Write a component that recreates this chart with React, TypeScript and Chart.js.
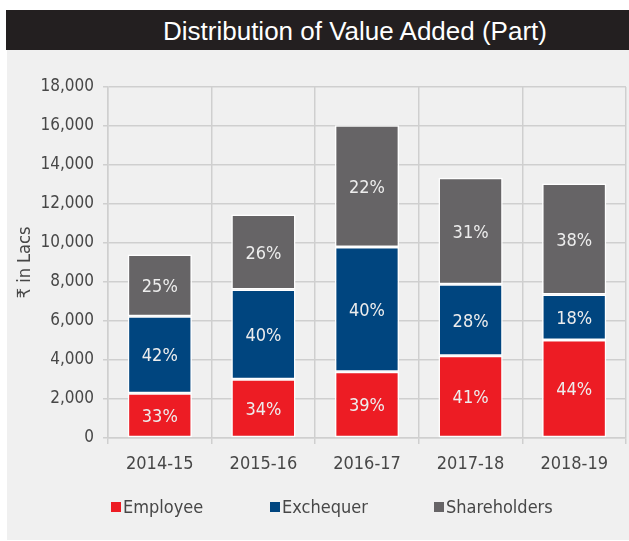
import React, { useEffect, useRef } from "react";
import { Chart, registerables } from "chart.js";

Chart.register(...registerables);

const categories = ["2014-15", "2015-16", "2016-17", "2017-18", "2018-19"];
const employee = [2290, 3010, 3400, 4220, 5020];
const exchequer = [3960, 4610, 6400, 3670, 2340];
const shareholders = [3160, 3840, 6240, 5450, 5690];
const employeePct = ["33%", "34%", "39%", "41%", "44%"];
const exchequerPct = ["42%", "40%", "40%", "28%", "18%"];
const shareholdersPct = ["25%", "26%", "22%", "31%", "38%"];
const seriesNames = ["Employee", "Exchequer", "Shareholders"];
const seriesColors = ["#ED1C24", "#00457F", "#666466"];
const yTicks = { min: 0, max: 18000, step: 2000 };
const title = "Distribution of Value Added (Part)";
const yTitle = "₹ in Lacs";

const FONT = "'Liberation Sans Narrow', 'Arial Narrow', 'DejaVu Sans Condensed', sans-serif";
const TEXT = "#474747";
const GRID = "#cfcfcf";
const legendX = [104, 263, 427];

const pctLabels = [employeePct, exchequerPct, shareholdersPct];

const pctPlugin = {
  id: "pctLabels",
  afterDatasetsDraw(chart: any) {
    const ctx = chart.ctx;
    chart.data.datasets.forEach((_ds: any, i: number) => {
      const meta = chart.getDatasetMeta(i);
      meta.data.forEach((bar: any, j: number) => {
        const { x, y, base } = bar.getProps(["x", "y", "base"], true);
        ctx.save();
        ctx.fillStyle = "#ededed";
        ctx.font = `18px ${FONT}`;
        ctx.textAlign = "center";
        ctx.textBaseline = "middle";
        ctx.fillText(pctLabels[i][j], x, (y + base) / 2 + 2);
        ctx.restore();
      });
    });
  },
};

export default function App() {
  const ref = useRef<HTMLCanvasElement | null>(null);

  useEffect(() => {
    if (!ref.current) return;
    const data = [employee, exchequer, shareholders];
    const chart = new Chart(ref.current, {
      type: "bar",
      data: {
        labels: categories,
        datasets: seriesNames.map((name, i) => ({
          label: name,
          data: data[i],
          backgroundColor: seriesColors[i],
          borderColor: "#ffffff",
          borderWidth: 1.5,
          borderSkipped: false,
          barPercentage: 0.62,
          categoryPercentage: 1,
        })),
      },
      options: {
        animation: false,
        responsive: false,
        maintainAspectRatio: false,
        locale: "en-US",
        layout: { padding: { top: 37, right: 3, left: 0, bottom: 0 } },
        plugins: {
          legend: { display: false },
          tooltip: { enabled: false },
          title: { display: false },
        },
        scales: {
          x: {
            stacked: true,
            grid: { color: GRID, lineWidth: 1.5, tickLength: 6, offset: true },
            border: { color: GRID, width: 1.5 },
            ticks: { color: TEXT, font: { family: FONT, size: 18 }, padding: 10 },
            afterFit: (s: any) => {
              s.height = 102;
            },
          },
          y: {
            stacked: true,
            min: yTicks.min,
            max: yTicks.max,
            grid: { color: GRID, lineWidth: 1.5, tickLength: 5 },
            border: { color: GRID, width: 1.5 },
            ticks: {
              stepSize: yTicks.step,
              color: TEXT,
              font: { family: FONT, size: 17 },
              padding: 9,
            },
            title: {
              display: true,
              text: yTitle,
              color: TEXT,
              font: { family: FONT, size: 18 },
              padding: { top: 8, bottom: 0 },
            },
            afterFit: (s: any) => {
              s.width = 101;
            },
          },
        },
      },
      plugins: [pctPlugin],
    });
    return () => chart.destroy();
  }, []);

  return (
    <div style={{ position: "absolute", left: 0, top: 0, width: 629, height: 541, background: "#ffffff", overflow: "hidden" }}>
      <div
        style={{
          position: "absolute",
          left: 6,
          top: 10,
          width: 623,
          height: 40,
          background: "#231F20",
        }}
      >
        <div
          style={{
            position: "absolute",
            left: 0,
            width: 698,
            top: 0,
            height: 40,
            lineHeight: "42px",
            textAlign: "center",
            color: "#ffffff",
            fontFamily: "'Liberation Sans', Arial, sans-serif",
            fontSize: 26,
            whiteSpace: "nowrap",
          }}
        >
          {title}
        </div>
      </div>
      <div style={{ position: "absolute", left: 7, top: 50, width: 622, height: 490, background: "#F0F0F0" }}>
        <canvas ref={ref} width={622} height={490} style={{ position: "absolute", left: 0, top: 0, width: 622, height: 490 }} />
        {seriesNames.map((n, i) => (
          <div
            key={n}
            style={{
              position: "absolute",
              left: legendX[i],
              top: 444,
              display: "flex",
              alignItems: "center",
              fontFamily: FONT,
              fontSize: 18,
              color: TEXT,
              whiteSpace: "nowrap",
            }}
          >
            <span style={{ display: "inline-block", width: 10, height: 10, background: seriesColors[i], marginRight: 2 }} />
            <span style={{ lineHeight: "26px" }}>{n}</span>
          </div>
        ))}
      </div>
    </div>
  );
}
